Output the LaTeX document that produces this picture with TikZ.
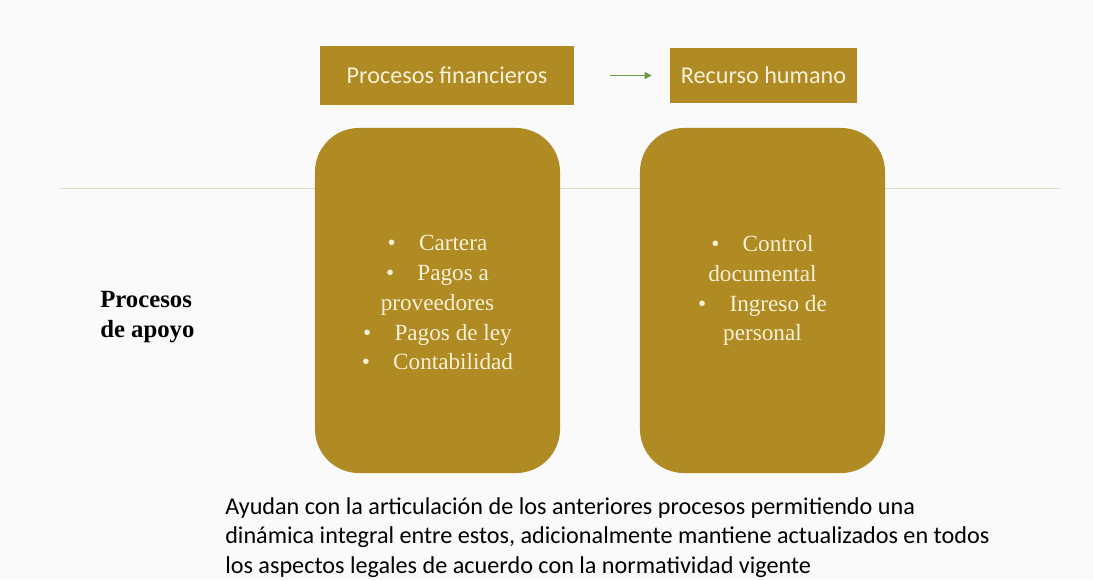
\documentclass[tikz,border=0pt]{standalone}
\usepackage{fontspec}
\setmainfont{Liberation Serif}
\newfontfamily\calibfont{Carlito}
\usetikzlibrary{positioning,arrows.meta}
\definecolor{gold}{RGB}{176,138,34}
\definecolor{cream}{RGB}{248,241,215}
\definecolor{pagebg}{RGB}{250,250,250}
\definecolor{rulegray}{RGB}{222,222,205}
\definecolor{arrowgreen}{RGB}{112,150,72}
\begin{document}
\begin{tikzpicture}[x=0.025cm, y=-0.025cm,
    titlebox/.style={rectangle, fill=gold, text=cream, font=\calibfont\fontsize{17.2}{20}\selectfont},
    groupbox/.style={rectangle, rounded corners=1.1cm, fill=gold, minimum width=6.125cm, minimum height=8.625cm},
    listtext/.style={text=cream, align=center, inner sep=0pt, font=\fontsize{16.5}{21.2}\selectfont},
    flowarrow/.style={-{Triangle[length=5pt, width=5pt]}, arrowgreen, line width=0.7pt}
]
    % Page and bounding box
    \fill[pagebg] (0,0) rectangle (1093,580);
    \useasboundingbox (0,0) rectangle (1093,580);

    % Separator line behind the boxes
    \coordinate (ruleL) at (60,188);
    \coordinate (ruleR) at (1060,188);
    \draw[rulegray, line width=0.6pt] (ruleL) -- (ruleR);

    % Header boxes
    \node[titlebox, minimum width=6.35cm, minimum height=1.475cm] (finhead) at (447,75.5) {Procesos financieros};
    \node[titlebox, minimum width=4.675cm, minimum height=1.375cm] (rhhead) at (763.5,75.5) {Recurso humano};
    \draw[flowarrow, shorten <=0.9cm, shorten >=0.45cm] (finhead) -- (rhhead);

    % Process groups
    \node[groupbox] (finbox) at (437.5,300.5) {};
    \node[groupbox] (rhbox) at (762.5,300.5) {};
    \node[listtext, anchor=north] (finlist) at (437.5,235)
        {\textbullet\quad Cartera\\ \textbullet\quad Pagos a\\ proveedores\\ \textbullet\quad Pagos de ley\\ \textbullet\quad Contabilidad};
    \node[listtext, anchor=north] (rhlist) at (762.5,235)
        {\textbullet\quad Control\\ documental\\ \textbullet\quad Ingreso de\\ personal};

    % Side label and description
    \node[anchor=north west, inner sep=0pt, align=left, font=\bfseries\fontsize{17.6}{21}\selectfont] (apoyo) at (100,291)
        {Procesos\\ de apoyo};
    \node[anchor=north west, inner sep=0pt, align=left, font=\calibfont\fontsize{17.2}{21}\selectfont] (desc) at (225,497)
        {Ayudan con la articulación de los anteriores procesos permitiendo una\\
         dinámica integral entre estos, adicionalmente mantiene actualizados en todos\\
         los aspectos legales de acuerdo con la normatividad vigente};
\end{tikzpicture}
\end{document}
